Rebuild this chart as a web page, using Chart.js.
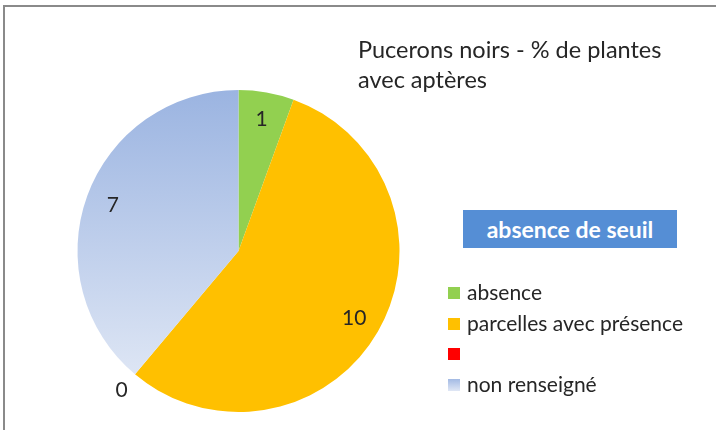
<!DOCTYPE html>
<html><head><meta charset="utf-8">
<script src="https://cdn.jsdelivr.net/npm/chart.js@4/dist/chart.umd.min.js"></script>
<style>
html,body{margin:0;padding:0;background:#fff;}
#wrap{position:relative;width:716px;height:430px;overflow:hidden;font-family:Lato,"Open Sans",sans-serif;}
#frame{position:absolute;left:3px;top:5px;width:720px;height:430px;border-top:2px solid #8a8a8a;border-left:2px solid #8a8a8a;}
#c{position:absolute;left:0;top:0;}
#title{position:absolute;left:358px;top:34px;font-size:23.5px;line-height:30px;color:#262626;}
#badge{position:absolute;left:463px;top:210px;width:214px;height:38px;background:#558ED5;color:#fff;font-weight:bold;font-size:23px;line-height:38px;text-align:center;}
#legend{position:absolute;left:448px;top:281px;font-size:21px;color:#262626;}
.li{height:30.7px;line-height:24px;position:relative;}
.sw{position:absolute;left:0;top:6px;width:12px;height:12px;}
.lt{position:absolute;left:19px;top:-1px;white-space:nowrap;}
</style></head>
<body><div id="wrap">
<canvas id="c" width="716" height="430"></canvas>
<div id="frame"></div>
<div id="title">Pucerons noirs - % de plantes<br>avec aptères</div>
<div id="badge">absence de seuil</div>
<div id="legend"></div>
</div>
<script>
const categories = ["absence", "parcelles avec présence", "", "non renseigné"];
const values = [1, 10, 0, 7];
const colors = ["#92D050", "#FFC000", "#FF0000", null];

const leg = document.getElementById('legend');
categories.forEach((c, i) => {
  const d = document.createElement('div'); d.className = 'li';
  const s = document.createElement('div'); s.className = 'sw';
  s.style.background = colors[i] || 'linear-gradient(#A3BAE4,#E0E7F5)';
  const t = document.createElement('div'); t.className = 'lt'; t.textContent = c;
  d.appendChild(s); d.appendChild(t); leg.appendChild(d);
});

const labelPlugin = {
  id: 'sliceLabels',
  afterDatasetsDraw(chart) {
    const ctx = chart.ctx;
    const meta = chart.getDatasetMeta(0);
    ctx.save();
    ctx.font = '21px Lato, "Open Sans", sans-serif';
    ctx.fillStyle = '#262626';
    ctx.textAlign = 'center';
    ctx.textBaseline = 'middle';
    meta.data.forEach((arc, i) => {
      const p = arc.getProps(['x','y','startAngle','endAngle','outerRadius'], true);
      const mid = (p.startAngle + p.endAngle) / 2;
      const v = values[i];
      const f = v === 0 ? 1.13 : 0.83;
      const r = p.outerRadius * f;
      const x = p.x + Math.cos(mid) * r;
      const y = p.y + Math.sin(mid) * r;
      ctx.fillText(String(v), x, y);
    });
    ctx.restore();
  }
};

new Chart(document.getElementById('c'), {
  type: 'pie',
  data: {
    labels: categories,
    datasets: [{
      data: values,
      borderWidth: 0,
      backgroundColor: (context) => {
        const i = context.dataIndex;
        if (colors[i]) return colors[i];
        const ch = context.chart;
        const a = ch.chartArea;
        if (!a) return '#B5C7EA';
        const g = ch.ctx.createLinearGradient(0, a.top, 0, a.bottom);
        g.addColorStop(0, '#9BB4E1');
        g.addColorStop(1, '#E6ECF7');
        return g;
      }
    }]
  },
  options: {
    responsive: false,
    animation: false,
    layout: { padding: { left: 77, right: 316, top: 90, bottom: 18 } },
    plugins: { legend: { display: false }, tooltip: { enabled: false } }
  },
  plugins: [labelPlugin]
});
</script>
</body></html>
